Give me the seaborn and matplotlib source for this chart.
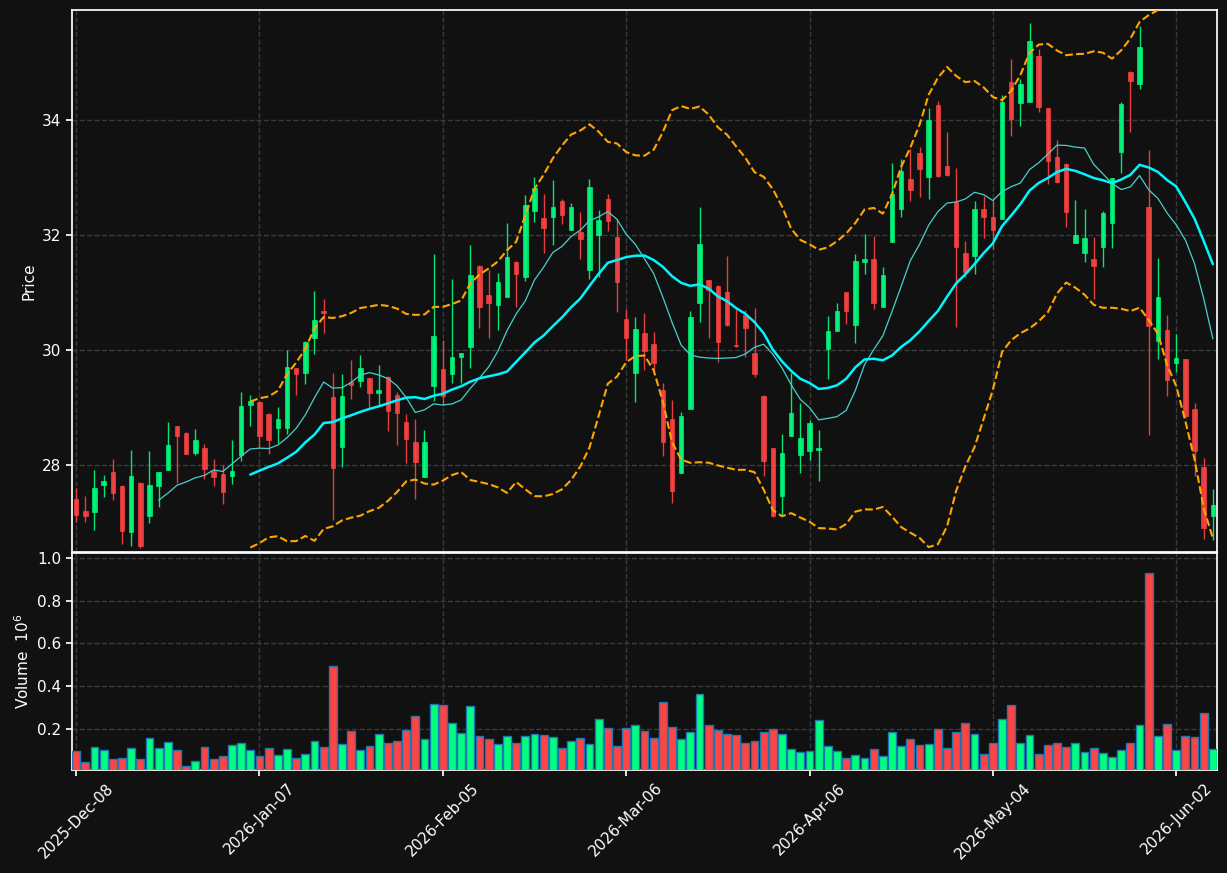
import numpy as np
import pandas as pd
import matplotlib
matplotlib.use("Agg")
import matplotlib.pyplot as plt
import seaborn as sns

# daily OHLC (one row per trading day)
opens = [27.41, 27.20, 27.19, 27.66, 27.88, 27.64, 26.83, 27.69, 27.12, 27.63,
         27.92, 28.68, 28.56, 28.22, 28.30, 27.90, 27.85, 27.82, 28.17, 29.04,
         29.10, 28.89, 28.64, 28.64, 29.69, 29.61, 30.22, 30.68, 29.19, 28.31,
         29.45, 29.47, 29.51, 29.26, 29.54, 29.22, 28.75, 28.41, 27.80, 29.37,
         29.68, 29.59, 29.88, 30.05, 31.47, 30.96, 30.79, 30.93, 31.54, 31.28,
         32.43, 32.30, 32.32, 32.59, 32.09, 32.06, 31.39, 32.01, 32.63, 31.97,
         30.54, 29.61, 30.30, 30.11, 29.31, 28.81, 27.87, 28.97, 30.83, 31.22,
         31.12, 31.01, 30.09, 30.62, 29.96, 29.21, 28.30, 27.47, 28.50, 28.18,
         28.24, 28.26, 30.03, 30.34, 31.01, 30.44, 31.54, 31.59, 30.76, 31.89,
         32.46, 32.98, 33.44, 33.02, 34.26, 33.21, 32.58, 31.70, 31.64, 32.46,
         32.31, 32.29, 34.66, 34.31, 34.32, 35.12, 34.22, 33.36, 33.24, 31.86,
         31.70, 31.59, 31.80, 32.22, 33.45, 34.84, 34.64, 32.49, 30.16, 30.35,
         29.77, 29.85, 28.98, 27.97, 27.12]
highs = [27.60, 27.46, 27.92, 27.83, 28.10, 27.65, 28.27, 27.70, 28.25, 27.89,
         28.75, 28.69, 28.57, 28.63, 28.37, 28.10, 28.00, 28.43, 29.27, 29.22,
         29.12, 28.90, 29.01, 30.00, 29.69, 30.16, 31.03, 30.90, 29.60, 29.58,
         29.83, 29.91, 29.52, 29.74, 29.55, 29.28, 28.89, 28.80, 28.61, 31.67,
         30.17, 31.24, 29.96, 31.83, 31.48, 31.39, 31.35, 32.21, 31.55, 32.70,
         33.01, 32.71, 32.97, 32.64, 32.57, 32.40, 32.98, 32.44, 32.72, 32.28,
         30.72, 30.57, 30.64, 30.31, 29.43, 29.13, 28.92, 30.68, 32.49, 31.23,
         31.13, 31.64, 30.71, 30.70, 30.74, 29.22, 28.30, 28.54, 29.61, 29.09,
         28.79, 28.61, 30.60, 30.82, 31.02, 31.67, 32.02, 31.99, 31.44, 33.25,
         33.32, 33.50, 33.53, 34.21, 34.33, 33.80, 33.17, 31.90, 32.60, 32.68,
         32.62, 34.44, 35.06, 34.72, 35.70, 35.24, 34.22, 33.65, 33.25, 32.61,
         32.45, 31.97, 32.43, 33.00, 34.32, 34.85, 35.64, 33.49, 31.60, 30.62,
         30.28, 29.85, 29.09, 28.12, 27.59]
lows = [27.01, 27.02, 26.88, 27.44, 27.40, 26.63, 26.59, 26.56, 26.99, 27.27,
        27.92, 27.69, 28.19, 28.17, 27.76, 27.63, 27.32, 27.67, 28.08, 28.68,
        28.32, 28.20, 28.38, 28.54, 29.22, 29.41, 29.93, 30.30, 27.05, 27.97,
        29.15, 29.36, 29.02, 29.05, 28.59, 28.35, 28.03, 27.41, 27.80, 29.11,
        29.05, 29.43, 29.43, 29.69, 30.38, 30.21, 30.36, 30.93, 30.75, 31.21,
        32.23, 31.69, 31.84, 32.19, 32.09, 31.58, 31.24, 31.28, 32.08, 30.67,
        29.83, 29.10, 29.65, 29.66, 28.16, 27.35, 27.87, 28.97, 30.50, 30.21,
        29.79, 30.43, 30.05, 29.88, 29.54, 27.82, 27.10, 27.11, 28.50, 27.86,
        28.09, 27.73, 29.50, 30.34, 30.45, 30.13, 31.32, 30.71, 30.76, 31.89,
        32.31, 32.59, 32.66, 32.63, 33.02, 33.04, 30.41, 31.27, 31.32, 31.95,
        31.76, 32.29, 33.73, 33.91, 34.32, 34.15, 32.89, 32.91, 32.14, 31.86,
        31.53, 30.90, 31.45, 31.78, 33.09, 33.79, 34.54, 28.53, 29.84, 29.20,
        29.63, 28.82, 27.82, 26.72, 26.70]
closes = [27.14, 27.12, 27.61, 27.73, 27.52, 26.85, 27.81, 26.60, 27.66, 27.88,
          28.35, 28.50, 28.20, 28.44, 27.94, 27.80, 27.54, 27.90, 29.03, 29.12,
          28.50, 28.43, 28.80, 29.71, 29.58, 30.14, 30.53, 30.64, 27.96, 29.21,
          29.40, 29.69, 29.25, 29.31, 28.95, 28.90, 28.46, 28.05, 28.41, 30.25,
          29.20, 29.88, 29.95, 31.31, 30.76, 30.83, 31.19, 31.62, 31.33, 32.53,
          32.83, 32.12, 32.50, 32.36, 32.49, 31.94, 32.84, 32.27, 32.25, 31.19,
          30.22, 30.37, 29.99, 29.77, 28.41, 27.56, 28.86, 30.58, 31.85, 31.04,
          30.15, 30.44, 30.08, 30.38, 29.59, 28.08, 27.12, 28.21, 28.91, 28.48,
          28.74, 28.30, 30.34, 30.68, 30.69, 31.55, 31.59, 30.83, 31.31, 32.72,
          33.12, 32.78, 33.16, 34.01, 33.03, 33.05, 31.79, 31.36, 32.46, 32.31,
          32.10, 34.32, 34.03, 34.64, 35.38, 34.23, 33.30, 32.92, 32.41, 32.01,
          31.95, 31.47, 32.39, 32.99, 34.29, 34.69, 35.28, 30.43, 30.93, 29.48,
          29.87, 28.85, 28.25, 26.91, 27.30]
# volume in millions
volumes = [0.097, 0.046, 0.116, 0.102, 0.060, 0.064, 0.111, 0.060, 0.158, 0.111,
           0.139, 0.102, 0.025, 0.050, 0.116, 0.060, 0.074, 0.125, 0.135, 0.102,
           0.074, 0.111, 0.078, 0.107, 0.064, 0.083, 0.144, 0.116, 0.495, 0.130,
           0.191, 0.102, 0.121, 0.177, 0.135, 0.144, 0.195, 0.260, 0.153, 0.317,
           0.312, 0.228, 0.181, 0.308, 0.166, 0.152, 0.130, 0.166, 0.135, 0.166,
           0.177, 0.172, 0.161, 0.111, 0.144, 0.156, 0.130, 0.247, 0.205, 0.121,
           0.205, 0.219, 0.191, 0.156, 0.326, 0.209, 0.153, 0.186, 0.363, 0.219,
           0.195, 0.177, 0.172, 0.135, 0.144, 0.186, 0.200, 0.177, 0.107, 0.093,
           0.097, 0.241, 0.121, 0.097, 0.064, 0.078, 0.064, 0.107, 0.074, 0.186,
           0.121, 0.153, 0.125, 0.130, 0.200, 0.111, 0.186, 0.228, 0.177, 0.083,
           0.135, 0.247, 0.312, 0.135, 0.172, 0.083, 0.125, 0.135, 0.116, 0.135,
           0.093, 0.111, 0.088, 0.069, 0.102, 0.135, 0.219, 0.930, 0.167, 0.224,
           0.102, 0.167, 0.163, 0.275, 0.107]
tick_labels = ['2025-Dec-08', '2026-Jan-07', '2026-Feb-05', '2026-Mar-06',
               '2026-Apr-06', '2026-May-04', '2026-Jun-02']

BG = '#111111'
UP = '#00ff7f'
DOWN = '#ff4444'

sns.set_theme(style="ticks", rc={
    'figure.facecolor': BG, 'axes.facecolor': BG, 'savefig.facecolor': BG,
    'axes.edgecolor': 'white', 'axes.labelcolor': 'white', 'text.color': 'white',
    'xtick.color': 'white', 'ytick.color': 'white',
    'axes.grid': True, 'grid.color': '#3a3a3a', 'grid.linestyle': '--',
    'grid.linewidth': 1.0, 'xtick.major.size': 4, 'ytick.major.size': 4,
})
plt.rcParams['font.family'] = ['DejaVu Sans']

df = pd.DataFrame({'Open': opens, 'High': highs, 'Low': lows,
                   'Close': closes, 'Volume': volumes})
df['i'] = np.arange(len(df))
df['up'] = df['Close'] >= df['Open']
df['ma10'] = df['Close'].rolling(10).mean()
df['ma20'] = df['Close'].rolling(20).mean()
sd = df['Close'].rolling(20).std(ddof=0)
df['upper'] = df['ma20'] + 2 * sd
df['lower'] = df['ma20'] - 2 * sd

W, H = 1227, 873
fig = plt.figure(figsize=(W / 100, H / 100), dpi=100)
ax = fig.add_axes([72 / W, 1 - 552 / H, 1145 / W, 542 / H])
axv = fig.add_axes([72 / W, 1 - 770 / H, 1145 / W, 217 / H], sharex=ax)

# candles
for up, grp in df.groupby('up'):
    c = UP if up else DOWN
    ax.vlines(grp['i'], grp['Low'], grp['High'], color=c, lw=1, alpha=0.9, zorder=3)
    ax.bar(grp['i'], grp['Close'] - grp['Open'], bottom=grp['Open'], width=0.5,
           color=c, edgecolor=c, linewidth=0.5, alpha=0.9, zorder=4)

# moving averages and bands
sns.lineplot(data=df, x='i', y='ma10', ax=ax, color='#48d1cc', lw=0.9, zorder=5)
sns.lineplot(data=df, x='i', y='ma20', ax=ax, color='#00f5ff', lw=1.8, zorder=5)
for col in ['upper', 'lower']:
    sns.lineplot(data=df, x='i', y=col, ax=ax, color='#ffa500', lw=1.5,
                 linestyle='--', zorder=5)

# volume
vcolors = [UP if u else DOWN for u in df['up']]
axv.bar(df['i'], df['Volume'], width=0.85, color=vcolors,
        edgecolor='#1f77b4', linewidth=1, zorder=3)

ax.set_xlim(-0.45, 124.45)
ax.set_ylim(26.49, 35.92)
ax.set_yticks([28, 30, 32, 34])
ax.set_ylabel('Price', fontsize=11)
ax.set_xlabel('')
ax.tick_params(labelbottom=False, labelsize=11)

axv.set_ylim(0.3 * min(volumes), 1.1 * max(volumes))
axv.set_yticks([0.2, 0.4, 0.6, 0.8, 1.0])
axv.set_ylabel('Volume  $10^{6}$', fontsize=11)
axv.set_xticks(range(0, len(df), 20))
axv.set_xticklabels(tick_labels, rotation=45, ha='center', fontsize=11)
axv.tick_params(labelsize=11)
axv.set_xlabel('')

for a in (ax, axv):
    for s in a.spines.values():
        s.set_visible(True)
        s.set_color('white')

fig.savefig('out.png', dpi=100)
